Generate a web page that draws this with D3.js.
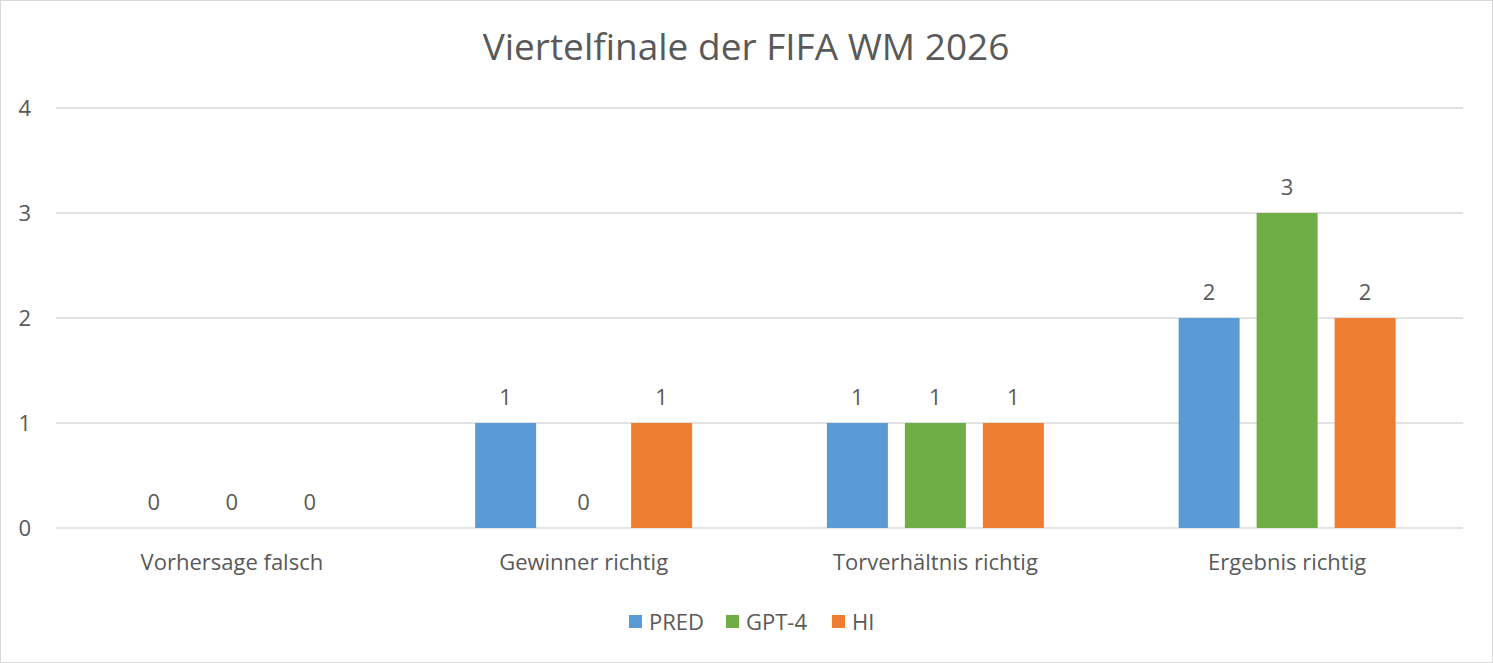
<!DOCTYPE html>
<html><head><meta charset="utf-8">
<script src="https://cdn.jsdelivr.net/npm/d3@7"></script>
<style>
html,body{margin:0;padding:0;background:#fff;}
text{font-family:"Open Sans","Noto Sans",sans-serif;fill:#595959;}
</style></head>
<body>
<svg id="chart" width="1493" height="663"></svg>
<script>
const title = "Viertelfinale der FIFA WM 2026";
const categories = ["Vorhersage falsch", "Gewinner richtig", "Torverhältnis richtig", "Ergebnis richtig"];
const seriesNames = ["PRED", "GPT-4", "HI"];
const PRED = [0, 1, 1, 2];
const GPT4 = [0, 0, 1, 3];
const HI = [0, 1, 1, 2];
const yTicks = [0, 1, 2, 3, 4];
const colors = ["#5B9BD5", "#70AD47", "#ED7D31"];

const series = [PRED, GPT4, HI];
const W = 1493, H = 663;
const m = {left: 56, right: 30, top: 108, bottom: 135};
const svg = d3.select("#chart");

svg.append("rect").attr("x", 0.5).attr("y", 0.5).attr("width", W - 1).attr("height", H - 1)
  .attr("fill", "#fff").attr("stroke", "#d9d9d9");

const x0 = d3.scaleBand().domain(categories).range([m.left, W - m.right]).paddingInner(0).paddingOuter(0);
const bw = 61, step = 78;
const x1 = d3.scaleLinear().domain([0, 2]).range([-step, step]);
const y = d3.scaleLinear().domain([0, 4]).range([H - m.bottom, m.top]);

// grid
svg.append("g").selectAll("line").data(yTicks).join("line")
  .attr("x1", m.left).attr("x2", W - m.right)
  .attr("y1", d => y(d)).attr("y2", d => y(d))
  .attr("stroke", "#d9d9d9").attr("stroke-width", 1.3);

// y axis labels
const yAxis = d3.axisLeft(y).tickValues(yTicks).tickSize(0).tickPadding(0).tickFormat(d3.format("d"));
const ya = svg.append("g").attr("transform", `translate(31,0)`).call(yAxis);
ya.select(".domain").remove();
ya.selectAll("text").style("font-size", "22px").attr("fill", "#595959").attr("dy", "0.35em");

// x axis labels
const xAxis = d3.axisBottom(x0).tickSize(0).tickPadding(0);
const xa = svg.append("g").attr("transform", `translate(0,${y(0) + 27})`).call(xAxis);
xa.select(".domain").remove();
xa.selectAll("text").style("font-size", "22px").attr("fill", "#595959").attr("dy", "0.7em");

// bars
series.forEach((vals, si) => {
  const g = svg.append("g");
  g.selectAll("rect").data(vals).join("rect")
    .attr("x", (d, i) => x0(categories[i]) + x0.bandwidth() / 2 + x1(si) - bw / 2)
    .attr("y", d => y(d))
    .attr("width", bw)
    .attr("height", d => y(0) - y(d))
    .attr("fill", colors[si]);
  g.selectAll("text").data(vals).join("text")
    .attr("x", (d, i) => x0(categories[i]) + x0.bandwidth() / 2 + x1(si))
    .attr("y", d => y(d) - 18)
    .attr("text-anchor", "middle")
    .style("font-size", "22px")
    .text(d => d);
});

// title
svg.append("text").attr("x", 746).attr("y", 60).attr("text-anchor", "middle")
  .style("font-size", "37px").text(title);

// legend
const legX = [629, 726, 832];
const lg = svg.append("g");
seriesNames.forEach((n, i) => {
  lg.append("rect").attr("x", legX[i]).attr("y", 615).attr("width", 13).attr("height", 13).attr("fill", colors[i]);
  lg.append("text").attr("x", legX[i] + 20).attr("y", 630).style("font-size", "22px").text(n);
});
</script>
</body></html>
